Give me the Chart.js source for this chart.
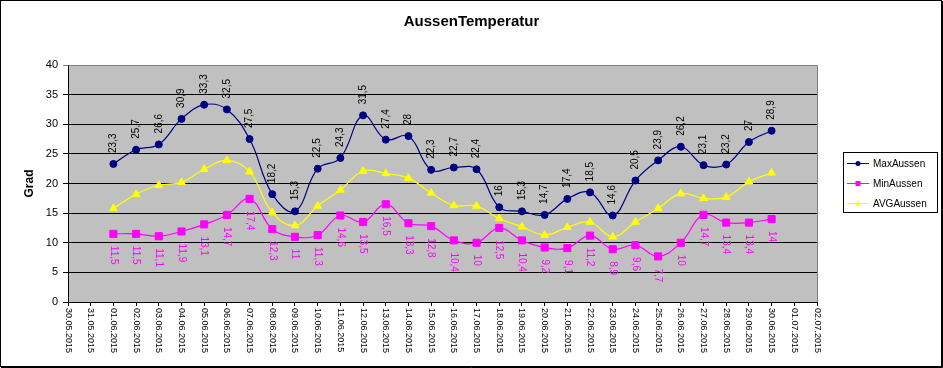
<!DOCTYPE html>
<html>
<head>
<meta charset="utf-8">
<script src="https://cdn.jsdelivr.net/npm/chart.js@4/dist/chart.umd.min.js"></script>
<style>
html,body{margin:0;padding:0;background:#fff;}
canvas{display:block;}
</style>
</head>
<body>
<canvas id="c" width="943" height="368"></canvas>
<script>
const categories = ['30.05.2015','31.05.2015','01.06.2015','02.06.2015','03.06.2015','04.06.2015','05.06.2015','06.06.2015','07.06.2015','08.06.2015','09.06.2015','10.06.2015','11.06.2015','12.06.2015','13.06.2015','14.06.2015','15.06.2015','16.06.2015','17.06.2015','18.06.2015','19.06.2015','20.06.2015','21.06.2015','22.06.2015','23.06.2015','24.06.2015','25.06.2015','26.06.2015','27.06.2015','28.06.2015','29.06.2015','30.06.2015','01.07.2015','02.07.2015'];

const maxAussen = [null,null,23.3,25.7,26.6,30.9,33.3,32.5,27.5,18.2,15.3,22.5,24.3,31.5,27.4,28,22.3,22.7,22.4,16,15.3,14.7,17.4,18.5,14.6,20.5,23.9,26.2,23.1,23.2,27,28.9,null,null];
const minAussen = [null,null,11.5,11.5,11.1,11.9,13.1,14.7,17.4,12.3,11,11.3,14.6,13.5,16.5,13.3,12.8,10.4,10,12.5,10.4,9.2,9.1,11.2,8.9,9.6,7.7,10,14.7,13.4,13.4,14,null,null];
const avgAussen = [null,null,15.8,18.2,19.7,20.2,22.4,23.9,22.0,15.1,12.9,16.2,18.9,22.1,21.7,20.9,18.4,16.3,16.2,14.1,12.7,11.3,12.6,13.5,11.0,13.5,15.8,18.3,17.5,17.7,20.3,21.8,null,null];

const yTicks = [0,5,10,15,20,25,30,35,40];
const seriesNames = ['MaxAussen','MinAussen','AVGAussen'];

const FONT = '"Liberation Sans", Arial, sans-serif';

const fmt = v => String(v).replace('.', ',');

const decorPlugin = {
  id: 'decor',
  beforeDraw(chart) {
    const ctx = chart.ctx, a = chart.chartArea;
    ctx.save();
    ctx.fillStyle = '#ffffff';
    ctx.fillRect(0, 0, chart.width, chart.height);
    ctx.fillStyle = '#C0C0C0';
    ctx.fillRect(a.left, a.top, a.right - a.left, a.bottom - a.top);
    ctx.restore();
  },
  afterDatasetsDraw(chart) {
    const ctx = chart.ctx;
    ctx.save();
    ctx.font = '10px ' + FONT;
    ctx.textBaseline = 'middle';
    ctx.textAlign = 'left';
    const m0 = chart.getDatasetMeta(0);
    m0.data.forEach((pt, i) => {
      const v = maxAussen[i];
      if (v === null) return;
      ctx.save();
      ctx.translate(pt.x, pt.y - 11);
      ctx.rotate(-Math.PI / 2);
      ctx.fillStyle = '#000000';
      ctx.fillText(fmt(v), 0, 0);
      ctx.restore();
    });
    const m1 = chart.getDatasetMeta(1);
    m1.data.forEach((pt, i) => {
      const v = minAussen[i];
      if (v === null) return;
      ctx.save();
      ctx.translate(pt.x, pt.y + 12);
      ctx.rotate(Math.PI / 2);
      ctx.fillStyle = '#FF00FF';
      ctx.fillText(fmt(v), 0, 0);
      ctx.restore();
    });
    ctx.restore();
  },
  afterDraw(chart) {
    const ctx = chart.ctx, a = chart.chartArea;
    ctx.save();
    ctx.strokeStyle = '#808080';
    ctx.lineWidth = 1;
    ctx.beginPath();
    ctx.moveTo(Math.round(a.left) + 0.5, Math.round(a.top) + 0.5);
    ctx.lineTo(Math.round(a.right) + 0.5, Math.round(a.top) + 0.5);
    ctx.lineTo(Math.round(a.right) + 0.5, Math.round(a.bottom));
    ctx.stroke();
    const xs = chart.scales.x;
    ctx.font = '9px ' + FONT;
    ctx.fillStyle = '#000000';
    ctx.textAlign = 'left';
    ctx.textBaseline = 'middle';
    categories.forEach((lab, i) => {
      const x = xs.getPixelForTick(i);
      ctx.save();
      ctx.translate(x, a.bottom + 6);
      ctx.rotate(Math.PI / 2);
      ctx.fillText(lab, 0, 0);
      ctx.restore();
    });
    const lx = 843, ly = 152, lw = 94, lh = 60;
    ctx.strokeStyle = '#000000';
    ctx.lineWidth = 1;
    ctx.strokeRect(lx + 0.5, ly + 0.5, lw, lh);
    ctx.font = '10px ' + FONT;
    chart.data.datasets.forEach((ds, i) => {
      const y = ly + 11 + i * 20;
      ctx.strokeStyle = ds.borderColor;
      ctx.beginPath();
      ctx.moveTo(lx + 4, y + 0.5);
      ctx.lineTo(lx + 26, y + 0.5);
      ctx.stroke();
      ctx.fillStyle = ds.backgroundColor;
      ctx.beginPath();
      if (ds.pointStyle === 'circle') {
        ctx.arc(lx + 15, y + 0.5, 2.5, 0, Math.PI * 2);
      } else if (ds.pointStyle === 'rect') {
        ctx.rect(lx + 12.5, y - 2, 5, 5);
      } else {
        ctx.moveTo(lx + 15, y - 2.5);
        ctx.lineTo(lx + 18, y + 2.5);
        ctx.lineTo(lx + 12, y + 2.5);
        ctx.closePath();
      }
      ctx.fill();
      ctx.fillStyle = '#000000';
      ctx.textAlign = 'left';
      ctx.textBaseline = 'middle';
      ctx.fillText(ds.label, lx + 30, y + 1);
    });
    ctx.strokeStyle = '#000000';
    ctx.lineWidth = 1;
    ctx.strokeRect(0.5, 0.5, chart.width - 2, chart.height - 2);
    ctx.beginPath();
    ctx.moveTo(chart.width - 0.5, 1);
    ctx.lineTo(chart.width - 0.5, chart.height - 0.5);
    ctx.lineTo(1, chart.height - 0.5);
    ctx.stroke();
    ctx.restore();
  }
};

const ctx = document.getElementById('c').getContext('2d');
new Chart(ctx, {
  type: 'line',
  data: {
    labels: categories,
    datasets: [
      {
        label: seriesNames[0], data: maxAussen,
        borderColor: '#000080', backgroundColor: '#000080',
        pointStyle: 'circle', pointRadius: 3.5, pointBorderWidth: 1,
        borderWidth: 1.2, tension: 0.4, fill: false
      },
      {
        label: seriesNames[1], data: minAussen,
        borderColor: '#FF00FF', backgroundColor: '#FF00FF',
        pointStyle: 'rect', pointRadius: 5, pointBorderWidth: 1,
        borderWidth: 1.2, tension: 0.4, fill: false
      },
      {
        label: seriesNames[2], data: avgAussen,
        borderColor: '#FFFF00', backgroundColor: '#FFFF00',
        pointStyle: 'triangle', pointRadius: 4.5, pointBorderWidth: 1,
        borderWidth: 1.2, tension: 0.4, fill: false
      }
    ]
  },
  options: {
    responsive: false,
    animation: false,
    events: [],
    layout: { padding: { left: 0, right: 0, top: 0, bottom: 0 } },
    plugins: {
      legend: { display: false },
      tooltip: { enabled: false },
      title: {
        display: true,
        text: 'AussenTemperatur',
        color: '#000000',
        font: { family: FONT, size: 15, weight: 'bold', lineHeight: 1.2 },
        padding: { top: 13, bottom: 34 }
      }
    },
    scales: {
      x: {
        type: 'category',
        offset: false,
        grid: { display: true, drawOnChartArea: false, drawTicks: true, tickLength: 4, color: '#000000' },
        border: { display: true, color: '#000000', width: 1 },
        ticks: { autoSkip: false, maxRotation: 90, minRotation: 90, color: 'rgba(0,0,0,0)', font: { family: FONT, size: 9 } },
        afterFit(scale) { scale.height = 66; }
      },
      y: {
        min: 0, max: 40,
        afterBuildTicks(scale) { scale.ticks = yTicks.map(v => ({ value: v })); },
        grid: {
          color: c => (c.tick && c.tick.value === 40) ? '#808080' : '#000000',
          drawTicks: true, tickLength: 5, lineWidth: 1
        },
        border: { display: true, color: '#000000', width: 1 },
        ticks: { color: '#000000', padding: 5, font: { family: FONT, size: 11 } },
        title: {
          display: true, text: 'Grad', color: '#000000',
          font: { family: FONT, size: 12, weight: 'bold' },
          padding: { top: 22, bottom: 0 }
        },
        afterFit(scale) { scale.width = 68; }
      },
      legendSpace: {
        type: 'linear',
        position: 'right',
        display: true,
        grid: { display: false, drawTicks: false },
        border: { display: false },
        ticks: { display: false },
        afterFit(scale) { scale.width = 126; }
      }
    }
  },
  plugins: [decorPlugin]
});
</script>
</body>
</html>
